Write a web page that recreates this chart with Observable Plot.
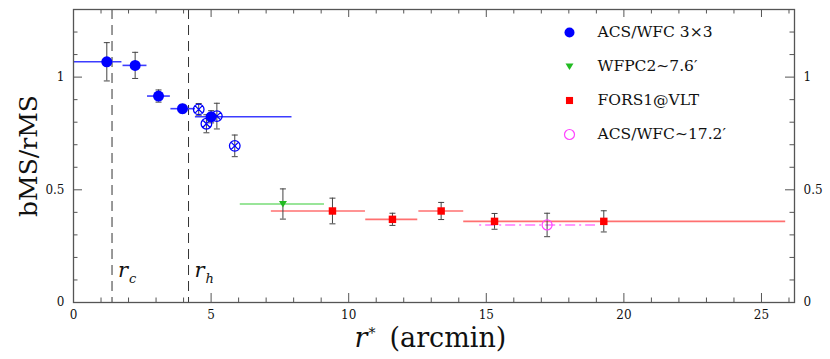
<!DOCTYPE html>
<html><head><meta charset="utf-8">
<script src="https://cdn.jsdelivr.net/npm/d3@7"></script>
<script src="https://cdn.jsdelivr.net/npm/@observablehq/plot@0.6"></script>
<style>body{margin:0;background:#fff}</style>
</head><body><div id="chart"></div>
<script>
// ---- data ----
const blueX = [1.21, 2.24, 3.09, 3.96, 5.0];
const blueY = [1.068, 1.052, 0.916, 0.860, 0.824];
const blueErr = [0.085, 0.058, 0.027, 0.019, 0.027];
const blueX1 = [0, 1.80, 2.69, 3.54, 4.43];
const blueX2 = [1.76, 2.67, 3.52, 4.43, 7.94];

const crossX = [4.55, 4.83, 5.21, 5.86];
const crossY = [0.857, 0.793, 0.827, 0.695];
const crossErr = [0.026, 0.040, 0.057, 0.048];

const greenX = [7.61];
const greenY = [0.437];
const greenErr = [0.067];
const greenX1 = [6.06];
const greenX2 = [9.12];

const redX = [9.41, 11.59, 13.36, 15.30, 19.27];
const redY = [0.406, 0.369, 0.406, 0.360, 0.360];
const redErr = [0.057, 0.027, 0.038, 0.035, 0.047];
const redX1 = [7.19, 10.62, 12.55, 14.18, 16.9];
const redX2 = [10.61, 12.51, 14.18, 16.9, 25.88];

const magX = [17.21];
const magY = [0.344];
const magErr = [0.052];
const magX1 = [14.76];
const magX2 = [18.97];

const radii = [1.40, 4.18];            // r_c, r_h
const radiiLabels = ["c", "h"];

const xMajor = [0, 5, 10, 15, 20, 25];
const xMinor = d3.range(1, 27).filter(d => d % 5 !== 0);
const yMajor = [0, 0.5, 1];
const yMinor = [0.1, 0.2, 0.3, 0.4, 0.6, 0.7, 0.8, 0.9, 1.1, 1.2];

const legendLabels = ["ACS/WFC 3\u00d73", "WFPC2\u223c7.6\u2032", "FORS1@VLT", "ACS/WFC\u223c17.2\u2032"];

// ---- helpers ----
const rows = (xs, ys, es, x1s, x2s) => xs.map((x, i) => ({x, y: ys[i], e: es[i], x1: x1s ? x1s[i] : null, x2: x2s ? x2s[i] : null}));
const blue = rows(blueX, blueY, blueErr, blueX1, blueX2);
const cross = rows(crossX, crossY, crossErr);
const green = rows(greenX, greenY, greenErr, greenX1, greenX2);
const red = rows(redX, redY, redErr, redX1, redX2);
const mag = rows(magX, magY, magErr, magX1, magX2);

const crossCircle = {draw(ctx, size) {
  const r = Math.sqrt(size / Math.PI);
  ctx.moveTo(r, 0); ctx.arc(0, 0, r, 0, 2 * Math.PI);
  const a = r / Math.SQRT2;
  ctx.moveTo(-a, -a); ctx.lineTo(a, a); ctx.moveTo(-a, a); ctx.lineTo(a, -a);
}};
const triDown = {draw(ctx, size) {
  const r = Math.sqrt(size / Math.PI);
  ctx.moveTo(-r, -r * 0.75); ctx.lineTo(r, -r * 0.75); ctx.lineTo(0, r * 0.85); ctx.closePath();
}};
const capSym = {draw(ctx, size) {
  const r = Math.sqrt(size / Math.PI);
  ctx.moveTo(-r, 0); ctx.lineTo(r, 0);
}};

const serif = "'DejaVu Serif', 'Liberation Serif', serif";
const frameC = "#555";
const errC = "#444";
const mT = 9, mB = 57, H = 359, plotH = H - mT - mB;

function errMarks(data) {
  return [
    Plot.ruleX(data, {x: "x", y1: d => d.y - d.e, y2: d => d.y + d.e, stroke: errC, strokeWidth: 1}),
    Plot.dot(data, {x: "x", y: d => d.y - d.e, symbol: capSym, r: 3, stroke: errC, strokeWidth: 1}),
    Plot.dot(data, {x: "x", y: d => d.y + d.e, symbol: capSym, r: 3, stroke: errC, strokeWidth: 1})
  ];
}

const legendSyms = [
  {symbol: "circle", fill: "#0000ff", stroke: "none", r: 5},
  {symbol: triDown, fill: "#22bb22", stroke: "none", r: 4},
  {symbol: "square", fill: "#ff0000", stroke: "none", r: 4},
  {symbol: "circle", fill: "none", stroke: "#ff44ff", r: 5}
];
const legendMarks = legendLabels.flatMap((lab, i) => [
  Plot.dot([lab], {frameAnchor: "top-left", dx: 496, dy: 23 + i * 34, ...legendSyms[i], strokeWidth: 1.2}),
  Plot.text([lab], {frameAnchor: "top-left", dx: 524, dy: 23 + i * 34, text: d => d, textAnchor: "start", lineAnchor: "middle", fontSize: 15.5, fontFamily: serif, fill: "#111"})
]);

const chart = Plot.plot({
  width: 830, height: H,
  marginLeft: 73, marginRight: 36, marginTop: mT, marginBottom: mB,
  style: {fontFamily: serif, color: "#111", background: "#fff"},
  x: {domain: [0, 26.2]},
  y: {domain: [0, 1.3]},
  marks: [
    // inward ticks
    Plot.ruleX(xMajor, {x: d => d, insetTop: plotH - 9, stroke: frameC}),
    Plot.ruleX(xMinor, {x: d => d, insetTop: plotH - 4.5, stroke: frameC}),
    Plot.ruleX(xMajor, {x: d => d, insetBottom: plotH - 8, stroke: frameC}),
    Plot.ruleX(xMinor, {x: d => d, insetBottom: plotH - 4.5, stroke: frameC}),
    Plot.ruleY(yMajor, {y: d => d, insetRight: 721 - 9, stroke: frameC}),
    Plot.ruleY(yMinor, {y: d => d, insetRight: 721 - 4.5, stroke: frameC}),
    Plot.ruleY(yMajor, {y: d => d, insetLeft: 721 - 9, stroke: frameC}),
    Plot.ruleY(yMinor, {y: d => d, insetLeft: 721 - 4.5, stroke: frameC}),
    Plot.axisX({ticks: xMajor, tickSize: 0, tickPadding: 8, fontSize: 12, label: null, tickFormat: d => String(d)}),
    Plot.axisY({anchor: "left", ticks: yMajor, tickSize: 0, tickPadding: 9, fontSize: 12, label: null, tickFormat: d => String(d)}),
    Plot.axisY({anchor: "right", ticks: yMajor, tickSize: 0, tickPadding: 9, fontSize: 12, label: null, tickFormat: d => String(d)}),
    // r_c, r_h
    Plot.ruleX(radii, {x: d => d, stroke: "#333", strokeWidth: 1, strokeDasharray: "10,6"}),
    Plot.text(radii, {x: d => d, y: 0.142, text: () => "r", dx: 6, textAnchor: "start", fontStyle: "italic", fontSize: 21, fontFamily: serif, fill: "#111"}),
    Plot.text(radii, {x: d => d, y: 0.142, text: (d, i) => radiiLabels[i], dx: 17, dy: 8, textAnchor: "start", fontStyle: "italic", fontSize: 13, fontFamily: serif, fill: "#111"}),
    // horizontal bin bars
    Plot.ruleY(green, {y: "y", x1: "x1", x2: "x2", stroke: "#77dd77", strokeWidth: 1.5}),
    Plot.ruleY(red, {y: "y", x1: "x1", x2: "x2", stroke: "#ff7070", strokeWidth: 1.6}),
    Plot.ruleY(mag, {y: "y", x1: "x1", x2: "x2", stroke: "#ff77ff", strokeWidth: 1.6, strokeDasharray: "2,4,10,4"}),
    Plot.ruleY(blue, {y: "y", x1: "x1", x2: "x2", stroke: "#3c3cff", strokeWidth: 1.6}),
    // error bars
    ...errMarks(blue), ...errMarks(cross), ...errMarks(green), ...errMarks(red), ...errMarks(mag),
    // points
    Plot.dot(green, {x: "x", y: "y", symbol: triDown, r: 4, fill: "#22bb22"}),
    Plot.dot(red, {x: "x", y: "y", symbol: "square", r: 4.2, fill: "#ff0000"}),
    Plot.dot(mag, {x: "x", y: "y", r: 5, fill: "none", stroke: "#ff44ff", strokeWidth: 1.2}),
    Plot.dot(blue, {x: "x", y: "y", r: 5.5, fill: "#0000ff"}),
    Plot.dot(cross, {x: "x", y: "y", symbol: crossCircle, r: 5.3, fill: "none", stroke: "#0000ff", strokeWidth: 1.3}),
    // legend
    ...legendMarks,
    // axis titles
    Plot.text(["bMS/rMS"], {frameAnchor: "left", dx: -45, text: d => d, textAnchor: "middle", rotate: -90, fontSize: 25, fontFamily: serif, fill: "#111"}),
    Plot.text(["r"], {frameAnchor: "bottom-left", dx: 281, dy: 44, text: d => d, textAnchor: "start", fontStyle: "italic", fontSize: 27, fontFamily: serif, fill: "#111"}),
    Plot.text(["*"], {frameAnchor: "bottom-left", dx: 295, dy: 35, text: d => d, textAnchor: "start", fontSize: 14, fontFamily: serif, fill: "#111"}),
    Plot.text(["(arcmin)"], {frameAnchor: "bottom-left", dx: 316, dy: 44, text: d => d, textAnchor: "start", fontSize: 27, fontFamily: serif, fill: "#111"}),
    Plot.frame({stroke: frameC, strokeWidth: 1.3})
  ]
});
document.getElementById("chart").append(chart);
</script>
</body></html>
